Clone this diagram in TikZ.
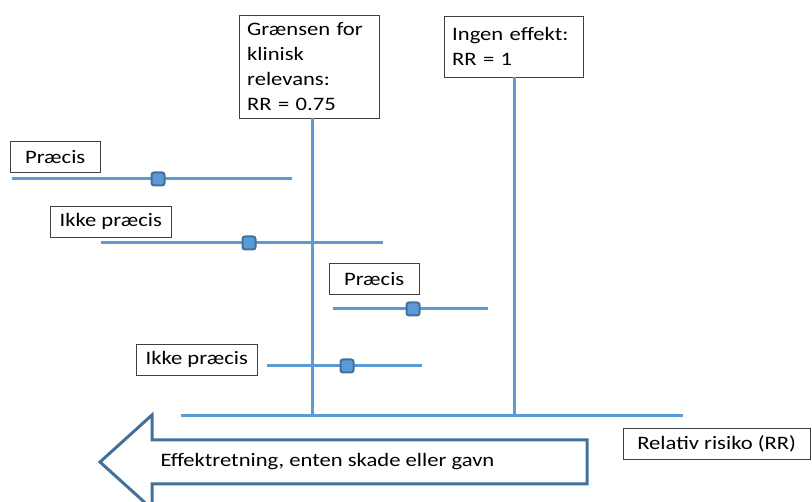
\documentclass[tikz,border=0pt]{standalone}
\usepackage{fontspec}
\setmainfont{Carlito}[FakeStretch=1.19]
\usepackage{tikz}
\definecolor{lysblaa}{HTML}{5B9BD5}
\definecolor{moerkblaa}{HTML}{41719C}

\begin{document}
\begin{tikzpicture}[x=1pt,y=-1pt,
        boks/.style={draw=black!75,thin,fill=white,anchor=north west,inner xsep=8pt,inner ysep=3pt,
          font=\fontsize{19}{25}\selectfont},
        linje/.style={draw=lysblaa,line width=3pt},
        punkt/.style={draw=moerkblaa,fill=lysblaa,line width=2pt,rounded corners=2.5pt,
          minimum size=13pt,inner sep=0pt}]
        \useasboundingbox (0,0) rectangle (812,502);
        % akse og referencelinjer
        \node[boks,text width=124pt,minimum height=103pt,align=left] (grense) at (239,15)
          {Grænsen for\\klinisk\\relevans:\\RR = 0.75};
        \node[boks,text width=123pt,minimum height=61pt,align=left] (ingen) at (444,16)
          {Ingen effekt:\\RR = 1};
        \coordinate (aksev) at (181,416);
        \coordinate (akseh) at (683,416);
        \draw[linje] (aksev) -- (akseh);
        \draw[linje] ([xshift=3pt]grense.south) -- ([xshift=3pt]grense.south |- aksev);
        \draw[linje] ([xshift=1pt]ingen.south) -- ([xshift=1pt]ingen.south |- aksev);
        \node[boks,minimum width=187pt,minimum height=31pt] (rr) at (623,428) {Relativ risiko (RR)};
        % pil
        \draw[moerkblaa,line width=3pt,fill=white] (100,462) -- (152,415) -- (152,440) -- (587,440)
          -- (587,484) -- (152,484) -- (152,509) -- cycle;
        \node[anchor=west,font=\fontsize{19}{25}\selectfont] (retning) at (157,462)
          {Effektretning, enten skade eller gavn};
        % estimater
        \node[boks,minimum width=90pt,minimum height=31pt] (p1) at (10,141) {Præcis};
        \coordinate (p1a) at (12,179);
        \coordinate (p1b) at (292,179);
        \draw[linje] (p1a) -- (p1b);
        \node[punkt] (m1) at (158,179) {};
        \node[boks,minimum width=121pt,minimum height=31pt] (p2) at (50,206) {Ikke præcis};
        \coordinate (p2a) at (101,243);
        \coordinate (p2b) at (383,243);
        \draw[linje] (p2a) -- (p2b);
        \node[punkt] (m2) at (249,243) {};
        \node[boks,minimum width=90pt,minimum height=31pt] (p3) at (329,263) {Præcis};
        \coordinate (p3a) at (333,309);
        \coordinate (p3b) at (488,309);
        \draw[linje] (p3a) -- (p3b);
        \node[punkt] (m3) at (413,309) {};
        \node[boks,minimum width=121pt,minimum height=31pt] (p4) at (136,344) {Ikke præcis};
        \coordinate (p4a) at (267,366);
        \coordinate (p4b) at (422,366);
        \draw[linje] (p4a) -- (p4b);
        \node[punkt] (m4) at (347,366) {};
\end{tikzpicture}
\end{document}
